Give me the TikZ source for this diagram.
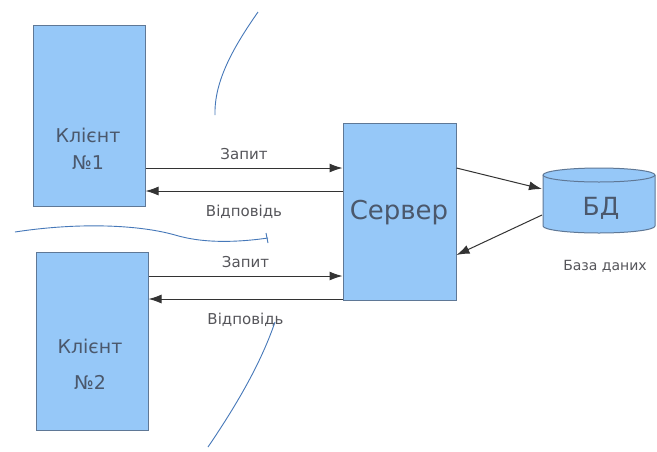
\documentclass[tikz,border=0pt]{standalone}
\usepackage{fontspec}
\setmainfont{DejaVu Sans}
\usetikzlibrary{arrows.meta}
\definecolor{boxfill}{RGB}{150,200,248}
\definecolor{boxline}{RGB}{95,120,150}
\definecolor{pen}{RGB}{70,120,185}
\definecolor{txt}{RGB}{75,88,108}
\definecolor{lbltxt}{RGB}{85,85,90}
\begin{document}
\begin{tikzpicture}[x=1pt,y=-1pt,
  box/.style={draw=boxline,fill=boxfill,line width=1pt,inner sep=0pt},
  arr/.style={-{Latex[length=13pt,width=9pt]},line width=1pt,draw=black!80},
  lbl/.style={text=lbltxt,font=\fontsize{15}{17}\selectfont},
  hand/.style={draw=pen,line width=0.9pt}]
\useasboundingbox (0,0) rectangle (657,451);
\fill[white] (0,0) rectangle (657,451);
\node[box,minimum width=112pt,minimum height=181pt] (c1) at (89,115.5) {};
\node[box,minimum width=112pt,minimum height=178pt] (c2) at (92,341) {};
\node[box,minimum width=113pt,minimum height=177pt] (srv) at (399.5,211.5) {};
% database cylinder
\path[draw=boxline,fill=boxfill,line width=1pt] (543,175) -- (543,226) arc[start angle=180,end angle=0,x radius=56,y radius=7] -- (655,175) arc[start angle=0,end angle=-180,x radius=56,y radius=7] -- cycle;
\draw[boxline,line width=1pt] (543,175) arc[start angle=180,end angle=0,x radius=56,y radius=7];
\node[inner sep=0pt,minimum width=112pt,minimum height=65pt] (db) at (599,201) {};
\node[text=txt,font=\fontsize{19}{24}\selectfont,align=center] (t1) at (88,149) {Клієнт\\[3pt]№1};
\node[text=txt,font=\fontsize{19}{24}\selectfont,align=center] (t2) at (90,364) {Клієнт\\[12pt]№2};
\node[text=txt,font=\fontsize{26}{28}\selectfont] (ts) at (399,213) {Сервер};
\node[text=txt,font=\fontsize{25}{28}\selectfont] (tdb) at (601,208) {БД};
\node[lbl,font=\fontsize{14}{16}\selectfont] (bd) at (605,266) {База даних};
\coordinate (a1s) at (c1.east |- 0,168);
\coordinate (a1e) at (srv.west |- 0,168);
\coordinate (b1s) at (srv.west |- 0,191);
\coordinate (b1e) at (c1.east |- 0,191);
\coordinate (a2s) at (c2.east |- 0,276);
\coordinate (a2e) at (srv.west |- 0,276);
\coordinate (b2s) at (srv.west |- 0,299);
\coordinate (b2e) at (c2.east |- 0,299);
\draw[arr] (a1s) -- node[lbl,above=4pt] (l1) {Запит} (a1e);
\draw[arr] (b1s) -- node[lbl,below=10pt] (l2) {Відповідь} (b1e);
\draw[arr] (a2s) -- node[lbl,above=4pt] (l3) {Запит} (a2e);
\draw[arr] (b2s) -- node[lbl,below=10pt] (l4) {Відповідь} (b2e);
\coordinate (s1) at (srv.east |- 0,168);
\coordinate (d1) at (542,189);
\coordinate (d2) at (542,215);
\coordinate (s2) at (srv.east |- 0,255);
\draw[arr] (s1) -- (d1);
\draw[arr] (d2) -- (s2);
\draw[hand] (258,12) .. controls (235,45) and (214,80) .. (215,115);
\draw[hand] (15,232) .. controls (80,222) and (140,225) .. (175,235) .. controls (205,244) and (240,242) .. (268,238);
\draw[hand] (266,233) -- (268,243);
\draw[hand] (275,322) .. controls (262,360) and (240,400) .. (208,447);
\end{tikzpicture}
\end{document}
